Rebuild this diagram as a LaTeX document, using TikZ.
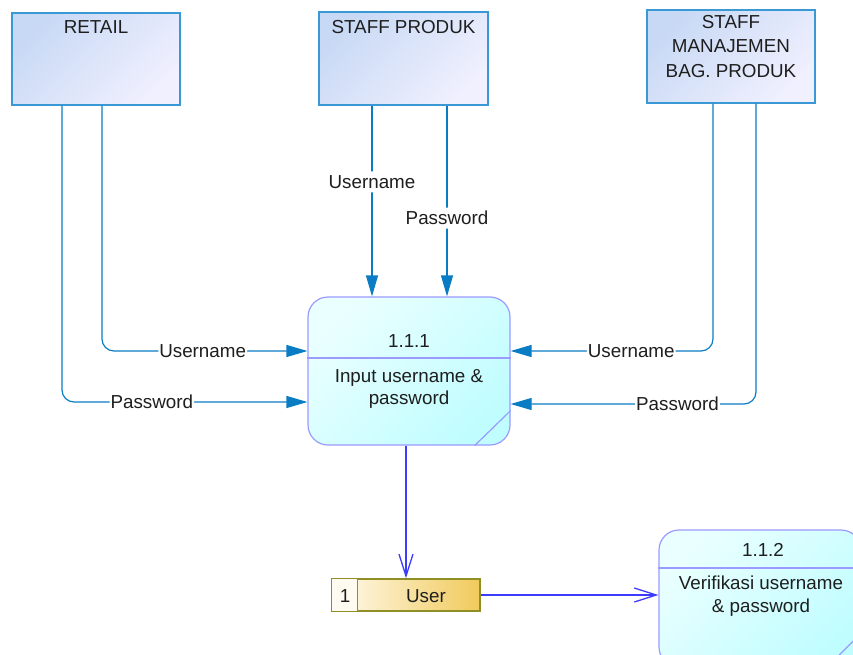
\documentclass[tikz,border=0pt]{standalone}
\usepackage{fontspec}
\setmainfont{Liberation Sans}
\usetikzlibrary{arrows.meta}

\definecolor{entline}{RGB}{58,152,212}
\definecolor{entA}{RGB}{200,217,245}
\definecolor{entB}{RGB}{240,240,254}
\definecolor{flowc}{RGB}{30,136,200}
\definecolor{tipc}{RGB}{10,124,196}
\definecolor{procline}{RGB}{154,154,255}
\definecolor{procA}{RGB}{234,255,255}
\definecolor{procB}{RGB}{192,253,255}
\definecolor{bluearrow}{RGB}{60,60,255}
\definecolor{storeline}{RGB}{143,143,37}
\definecolor{storeA}{RGB}{255,251,240}
\definecolor{storeB}{RGB}{241,202,91}
\definecolor{txt}{RGB}{30,30,30}

\tikzset{
  entity/.style={draw=entline, line width=1.4pt, top color=entA, bottom color=entB,
    shading angle=45, minimum width=168pt, minimum height=92pt, inner sep=0pt},
  process/.style={draw=procline, line width=1.2pt, rounded corners=20pt,
    top color=procA, bottom color=procB, shading angle=45, inner sep=0pt},
  divider/.style={draw=procline, line width=1.2pt},
  store/.style={draw=storeline, line width=1.5pt, left color=storeA, right color=storeB,
    minimum width=148pt, minimum height=32pt, inner sep=0pt},
  storediv/.style={draw=storeline, line width=1.5pt},
  flow/.style={draw=flowc, line width=1.2pt, rounded corners=12pt,
    -{Triangle[length=21pt,width=12pt]}, tipc},
  dataflow/.style={draw=bluearrow, line width=1.3pt,
    -{Straight Barb[length=22pt,width=14pt,line width=1.3pt]}},
  lbl/.style={fill=white, inner sep=1pt, text=txt, text height=16pt, text depth=3pt},
  tag/.style={text=txt, inner sep=0pt, text height=16pt, text depth=3pt},
  block/.style={text=txt, inner sep=0pt, align=center}
}

\begin{document}
\begin{tikzpicture}[x=1pt, y=-1pt, font=\fontsize{18.8}{23}\selectfont]
\useasboundingbox (0,0) rectangle (853,655);

% external entities
\node[entity] (retail) at (96,59) {};
\node[entity, minimum width=169pt, minimum height=93pt] (staffp) at (403.5,58.5) {};
\node[entity, minimum height=93pt] (staffm) at (731,56.5) {};
\node[tag] (retailT) at (96,27) {RETAIL};
\node[tag] (staffpT) at (403.5,27) {STAFF PRODUK};
\node[block, font=\fontsize{18.8}{24.5}\selectfont] (staffmT) at (731,46.5)
  {STAFF\\MANAJEMEN\\BAG. PRODUK};

% process 1.1.1
\node[process, minimum width=202pt, minimum height=148pt] (p111) at (409,371) {};
\draw[divider] ([yshift=13pt]p111.west) -- ([yshift=13pt]p111.east);
\draw[divider] ([yshift=35pt]p111.south east) -- ([xshift=-36pt]p111.south east);
\node[tag] (p111id) at (409,341) {1.1.1};
\node[block, font=\fontsize{18.8}{22}\selectfont] (p111T) at (409,389)
  {Input username \&\\password};

% process 1.1.2
\node[process, minimum width=202pt, minimum height=137pt] (p112) at (760,598.5) {};
\draw[divider] ([yshift=30.5pt]p112.west) -- ([yshift=30.5pt]p112.east);
\draw[divider] ([yshift=35pt]p112.south east) -- ([xshift=-35pt]p112.south east);
\node[tag] (p112id) at (763,550) {1.1.2};
\node[block] (p112T) at (761,596.5) {Verifikasi username\\\& password};

% data store
\node[store] (store) at (406,595) {};
\fill[storeA] ([shift={(0.75pt,-0.75pt)}]store.north west) rectangle ([xshift=26pt,yshift=0.75pt]store.south west);
\draw[storediv] ([xshift=26pt]store.north west) -- ([xshift=26pt]store.south west);
\node[tag] (storeN) at (345,596) {1};
\node[tag] (storeT) at (426,596) {User};

% data flows from the entities
\draw[flow] ([xshift=6pt]retail.south) |-
  node[lbl, pos=0.745] (l1) {Username} ([yshift=20pt]p111.west);
\draw[flow] ([xshift=-34pt]retail.south) |-
  node[lbl, pos=0.683] (l2) {Password} ([yshift=-31pt]p111.west);
\draw[flow] ([xshift=-31.5pt]staffp.south) --
  node[lbl, pos=0.40] (l3) {Username} ([xshift=-31.5pt]staffp.south |- p111.north);
\draw[flow] ([xshift=43.5pt]staffp.south) --
  node[lbl, pos=0.59] (l4) {Password} ([xshift=43.5pt]staffp.south |- p111.north);
\draw[flow] ([xshift=-18pt]staffm.south) |-
  node[lbl, pos=0.702] (l5) {Username} ([yshift=20pt]p111.east);
\draw[flow] ([xshift=25pt]staffm.south) |-
  node[lbl, pos=0.66] (l6) {Password} ([yshift=-33pt]p111.east);

% flows through the data store
\draw[dataflow] (store.north |- p111.south) -- (store.north);
\draw[dataflow] (store.east) -- (store.east -| p112.west);
\end{tikzpicture}
\end{document}
